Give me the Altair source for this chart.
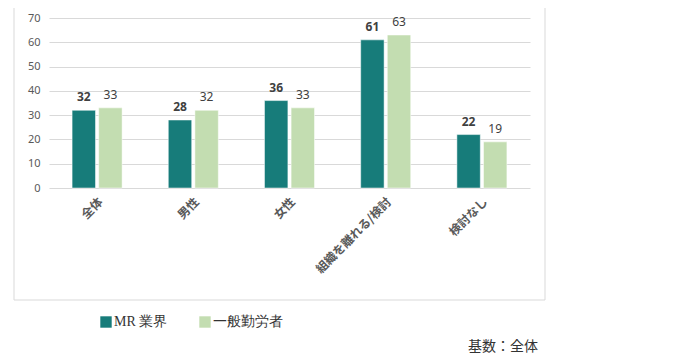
import altair as alt
import pandas as pd

categories = ["全体", "男性", "女性", "組織を離れる/検討", "検討なし"]
series_names = ["MR 業界", "一般勤労者"]
mr_values = [32, 28, 36, 61, 22]
general_values = [33, 32, 33, 63, 19]
y_ticks = [0, 10, 20, 30, 40, 50, 60, 70]
footnote = ["基数：全体"]

colors = ["#177C7A", "#C3DDB1"]

rows = []
for c, v in zip(categories, mr_values):
    rows.append({"cat": c, "series": series_names[0], "value": v})
for c, v in zip(categories, general_values):
    rows.append({"cat": c, "series": series_names[1], "value": v})
df = pd.DataFrame(rows)

x_enc = alt.X("cat:N", sort=categories, title=None,
              scale=alt.Scale(paddingInner=0.48, paddingOuter=0.24),
              axis=alt.Axis(labelAngle=-45, labelFontSize=12, labelFontWeight="bold",
                            labelColor="#595959", labelFont="Noto Sans CJK JP",
                            labelPadding=8, ticks=False, domain=False, grid=False,
                            labelAlign="right", labelBaseline="top"))
xoff = alt.XOffset("series:N", sort=series_names, scale=alt.Scale(paddingInner=0.12))
y_enc = alt.Y("value:Q", title=None,
              scale=alt.Scale(domain=[0, 70], nice=False),
              axis=alt.Axis(values=y_ticks, labelFontSize=11, labelColor="#595959",
                            labelFont="Noto Sans", labelPadding=9, ticks=False,
                            domain=False, gridColor="#D9D9D9", gridWidth=1))

base = alt.Chart(df)

bars = base.mark_bar(stroke="white", strokeWidth=0.5).encode(
    x=x_enc, xOffset=xoff, y=y_enc,
    color=alt.Color("series:N", sort=series_names,
                    scale=alt.Scale(domain=series_names, range=colors),
                    legend=alt.Legend(title=None, orient="none", direction="horizontal",
                                      legendX=50, legendY=297, symbolType="square",
                                      symbolSize=130, symbolStrokeWidth=0,
                                      labelFont="Liberation Serif", labelFontSize=14,
                                      labelColor="#333333", labelOffset=1,
                                      columnPadding=30)),
)

labels_mr = base.transform_filter(alt.datum.series == series_names[0]).mark_text(
    baseline="bottom", dy=-6, fontSize=12, fontWeight="bold", color="#404040",
    font="Noto Sans").encode(
    x=x_enc, xOffset=xoff, y=y_enc, text=alt.Text("value:Q"))

labels_gen = base.transform_filter(alt.datum.series == series_names[1]).mark_text(
    baseline="bottom", dy=-6, fontSize=12, color="#404040",
    font="Noto Sans").encode(
    x=x_enc, xOffset=xoff, y=y_enc, text=alt.Text("value:Q"))

border = alt.Chart(pd.DataFrame({"a": [1]})).mark_rect(
    fill=None, stroke="#D9D9D9", strokeWidth=1).encode(
    x=alt.value(-35), x2=alt.value(496), y=alt.value(-15), y2=alt.value(282))

note = alt.Chart(pd.DataFrame({"t": footnote})).mark_text(
    align="left", baseline="middle", fontSize=14, color="#333333",
    font="Noto Sans CJK JP").encode(
    x=alt.value(419), y=alt.value(329), text="t:N")

chart = alt.layer(border, bars, labels_mr, labels_gen, note).properties(
    width=481, height=170,
    padding={"left": 41, "top": 10, "right": 140, "bottom": 165},
    autosize=alt.AutoSizeParams(type="none"),
).configure_view(stroke=None)

chart.save("out.html", embed_options={"renderer": "svg", "actions": False})
